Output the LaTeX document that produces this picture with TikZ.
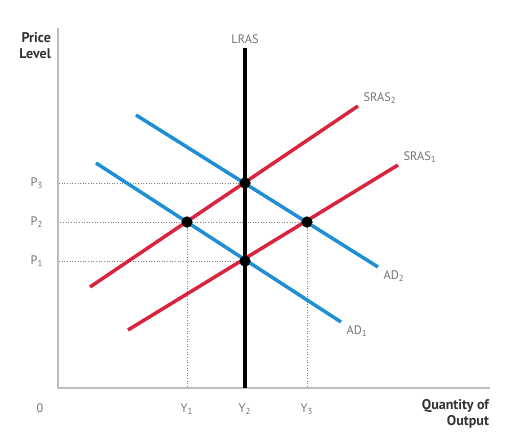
\documentclass[tikz,border=0pt]{standalone}
\usepackage{fontspec}
\setmainfont{PT Sans}
\usetikzlibrary{positioning}
\definecolor{srasred}{RGB}{218,36,62}
\definecolor{adblue}{RGB}{32,142,212}
\definecolor{axisgray}{RGB}{190,190,190}
\definecolor{labelgray}{RGB}{115,115,115}

\begin{document}
\begin{tikzpicture}[
    x=0.02cm, y=-0.02cm,
    axis/.style={draw=axisgray, line width=1.2pt},
    sras/.style={draw=srasred, line width=2pt},
    ad/.style={draw=adblue, line width=2pt},
    guide/.style={draw=gray, densely dotted, line width=0.5pt},
    eq/.style={circle, fill=black, inner sep=0pt, minimum size=0.22cm},
    lbl/.style={text=labelgray, font=\fontsize{7}{8}\selectfont, inner sep=1pt},
    ttl/.style={text=black!80, font=\fontsize{8}{9.5}\selectfont\bfseries, align=right, inner sep=1pt},
  ]
    \useasboundingbox (0,0) rectangle (509,444);
    % axes
    \coordinate (O) at (58,388);
    \coordinate (ytop) at (58,28);
    \coordinate (xend) at (490,388);
    % equilibrium points
    \node[eq] (e3) at (245,183) {};
    \node[eq] (e2) at (187,222) {};
    \node[eq] (e4) at (307,222) {};
    \node[eq] (e1) at (245,261) {};
    % guides
    \draw[guide] (e3) -- (e3 -| O);
    \draw[guide] (e4) -- (e4 -| O);
    \draw[guide] (e1) -- (e1 -| O);
    \draw[guide] (e2) -- (e2 |- O);
    \draw[guide] (e4) -- (e4 |- O);
    \draw[axis] (ytop) -- (O) -- (xend);
    % curves
    \coordinate (lrasTop) at (245,48);
    \draw[black, line width=1.8pt] (lrasTop) -- (lrasTop |- O);
    \node[lbl, above=1pt of lrasTop] (lras) {LRAS};
    \coordinate (sras2a) at (90,287);
    \coordinate (sras2b) at (358,106);
    \coordinate (sras1a) at (128,330);
    \coordinate (sras1b) at (398,165);
    \coordinate (ad2a) at (136,115);
    \coordinate (ad2b) at (378,267);
    \coordinate (ad1a) at (96,163);
    \coordinate (ad1b) at (341,322);
    \draw[sras] (sras2a) -- (sras2b);
    \draw[sras] (sras1a) -- (sras1b);
    \draw[ad] (ad2a) -- (ad2b);
    \draw[ad] (ad1a) -- (ad1b);
    \node[lbl, above right=0pt and 2pt of sras2b] (sras2) {SRAS\textsubscript{2}};
    \node[lbl, above right=0pt and 2pt of sras1b] (sras1) {SRAS\textsubscript{1}};
    \node[lbl, below right=1pt and 2pt of ad2b] (ad2) {AD\textsubscript{2}};
    \node[lbl, below right=1pt and 2pt of ad1b] (ad1) {AD\textsubscript{1}};
    % redraw dots on top
    \foreach \e in {e1,e2,e3,e4} \fill (\e) circle (0.11cm);
    % axis labels
    \node[lbl] (p3) at (37,183) {P\textsubscript{3}};
    \node[lbl] (p2) at (37,222) {P\textsubscript{2}};
    \node[lbl] (p1) at (37,261) {P\textsubscript{1}};
    \node[lbl] (y1) at (187,409) {Y\textsubscript{1}};
    \node[lbl] (y2) at (245,409) {Y\textsubscript{2}};
    \node[lbl] (y3) at (307,409) {Y\textsubscript{3}};
    \node[lbl] (zero) at (40,408) {0};
    \node[ttl, anchor=north east] (price) at (53,30) {Price\\Level};
    \node[ttl, anchor=north east] (qty) at (491,397) {Quantity of\\Output};
  \end{tikzpicture}
\end{document}
